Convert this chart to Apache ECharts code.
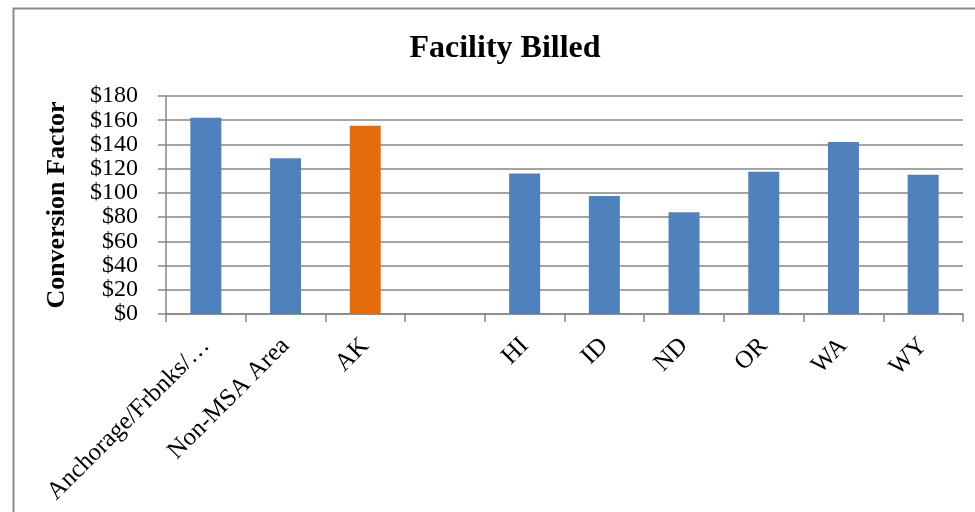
<!DOCTYPE html>
<html>
<head>
<meta charset="utf-8">
<script src="https://cdn.jsdelivr.net/npm/echarts@6/dist/echarts.min.js"></script>
<style>
  html, body { margin: 0; padding: 0; background: #fff; }
  #chart { width: 975px; height: 512px; }
</style>
</head>
<body>
<div id="chart"></div>
<script>
// Datos del gráfico
const categorias = ['Anchorage/Frbnks/…', 'Non-MSA Area', 'AK', '', 'HI', 'ID', 'ND', 'OR', 'WA', 'WY'];
const valores = [162, 128.5, 155.5, null, 116, 97.5, 84, 117.5, 142, 115];
const destacado = 'AK';
const ticksY = [0, 20, 40, 60, 80, 100, 120, 140, 160, 180];

const azul = '#4F81BD';
const naranja = '#E46C0A';
const fuente = '"Liberation Serif", "Times New Roman", serif';

const chart = echarts.init(document.getElementById('chart'));

const option = {
    animation: false,
    backgroundColor: '#fff',
    title: {
        text: 'Facility Billed',
        left: 500,
        top: 28,
        textAlign: 'center',
        textStyle: { fontFamily: fuente, fontSize: 32, fontWeight: 'bold', color: '#000' }
    },
    graphic: [{
        type: 'rect',
        left: 11, top: 6,
        shape: { width: 1100, height: 700 },
        style: { fill: 'none', stroke: '#8a8a8a', lineWidth: 2 },
        silent: true
    }],
    grid: { left: 166, right: 12, top: 96, bottom: 198 },
    xAxis: {
        type: 'category',
        data: categorias,
        axisLine: { lineStyle: { color: '#868686', width: 1.5 } },
        axisTick: { show: true, length: 8, lineStyle: { color: '#868686', width: 1.5 } },
        axisLabel: {
            rotate: 45,
            interval: 0,
            margin: 28,
            fontFamily: fuente,
            fontSize: 25,
            color: '#000'
        }
    },
    yAxis: {
        type: 'value',
        min: ticksY[0],
        max: ticksY[ticksY.length - 1],
        interval: 20,
        name: 'Conversion Factor',
        nameLocation: 'middle',
        nameGap: 96,
        nameTextStyle: { fontFamily: fuente, fontSize: 26, fontWeight: 'bold', color: '#000' },
        axisLine: { show: true, lineStyle: { color: '#868686', width: 1.5 } },
        axisTick: { show: true, length: 8, lineStyle: { color: '#868686', width: 1.5 } },
        splitLine: { lineStyle: { color: '#868686', width: 1.5 } },
        axisLabel: {
            margin: 28,
            fontFamily: fuente,
            fontSize: 24,
            lineHeight: 22,
            color: '#000',
            showMinLabel: true,
            showMaxLabel: true,
            hideOverlap: false,
            formatter: v => '$' + v
        }
    },
    series: [{
        type: 'bar',
        barWidth: 31,
        data: valores.map((v, i) => ({
            value: v,
            itemStyle: { color: categorias[i] === destacado ? naranja : azul }
        }))
    }]
};

chart.setOption(option);
</script>
</body>
</html>
